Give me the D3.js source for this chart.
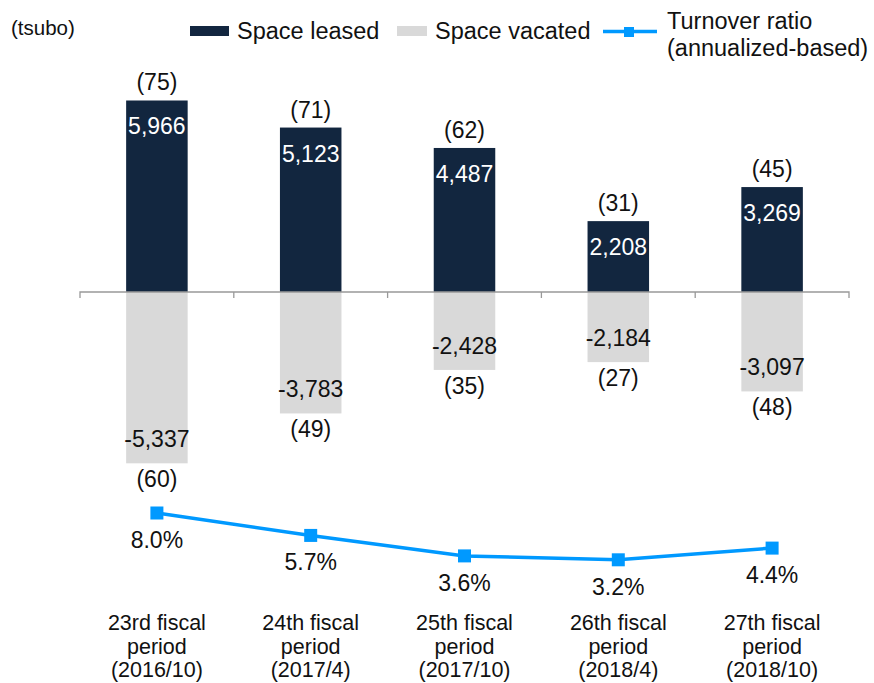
<!DOCTYPE html>
<html>
<head>
<meta charset="utf-8">
<script src="https://cdn.jsdelivr.net/npm/d3@7"></script>
<style>
  body { margin: 0; background: #fff; }
  text { font-family: "Liberation Sans", Arial, sans-serif; }
</style>
</head>
<body>
<div id="chart"></div>
<script>
let periods = [
  ["23rd fiscal", "period", "(2016/10)"],
  ["24th fiscal", "period", "(2017/4)"],
  ["25th fiscal", "period", "(2017/10)"],
  ["26th fiscal", "period", "(2018/4)"],
  ["27th fiscal", "period", "(2018/10)"]
]
let leased = [5966, 5123, 4487, 2208, 3269]
let leasedCount = [75, 71, 62, 31, 45]
let vacated = [-5337, -3783, -2428, -2184, -3097]
let vacatedCount = [60, 49, 35, 27, 48]
let turnover = [8.0, 5.7, 3.6, 3.2, 4.4]

let width = 874, height = 683
let navy = "#12263f", grey = "#d9d9d9", blue = "#0099ff"

let svg = d3.select("#chart").append("svg")
  .attr("width", width)
  .attr("height", height)

let x = d3.scaleBand()
  .domain(d3.range(periods.length))
  .range([80, 849])
  .padding(0)

let barW = x.bandwidth() * 0.4
let cx = i => x(i) + x.bandwidth() / 2

let y = d3.scaleLinear()
  .domain([-6000, 6000])
  .range([292 + 192.6, 292 - 192.6])

let yPct = d3.scaleLinear()
  .domain([0, 8])
  .range([591, 513])

// hyphen instead of unicode minus
let fmt = d => d3.format(",")(d).replace("\u2212", "-")

// leased bars
svg.selectAll("rect.leased")
  .data(leased)
  .enter()
  .append("rect")
  .attr("class", "leased")
  .attr("x", (d, i) => cx(i) - barW / 2)
  .attr("y", d => y(d))
  .attr("width", barW)
  .attr("height", d => y(0) - y(d))
  .attr("fill", navy)

// vacated bars
svg.selectAll("rect.vacated")
  .data(vacated)
  .enter()
  .append("rect")
  .attr("class", "vacated")
  .attr("x", (d, i) => cx(i) - barW / 2)
  .attr("y", y(0))
  .attr("width", barW)
  .attr("height", d => y(d) - y(0))
  .attr("fill", grey)

// axis at zero
let gX = svg.append("g")
  .attr("transform", "translate(0," + y(0) + ")")
gX.append("path")
  .attr("d", "M80,6V0H849V6")
  .attr("fill", "none")
  .attr("stroke", "#999")
  .attr("stroke-width", 1.3)
gX.selectAll("line.sep")
  .data(d3.range(1, periods.length))
  .enter()
  .append("line")
  .attr("class", "sep")
  .attr("x1", i => x(i)).attr("x2", i => x(i))
  .attr("y1", 0).attr("y2", 6)
  .attr("stroke", "#999")
  .attr("stroke-width", 1.3)

// leased labels
svg.selectAll("text.lv")
  .data(leased)
  .enter()
  .append("text")
  .attr("x", (d, i) => cx(i))
  .attr("y", d => y(d) + 34)
  .attr("text-anchor", "middle")
  .attr("font-size", "23px")
  .attr("fill", "white")
  .text(d => fmt(d))

svg.selectAll("text.lc")
  .data(leasedCount)
  .enter()
  .append("text")
  .attr("x", (d, i) => cx(i))
  .attr("y", (d, i) => y(leased[i]) - 10)
  .attr("text-anchor", "middle")
  .attr("font-size", "23px")
  .attr("fill", "#111")
  .text(d => "(" + d + ")")

// vacated labels
svg.selectAll("text.vv")
  .data(vacated)
  .enter()
  .append("text")
  .attr("x", (d, i) => cx(i))
  .attr("y", d => y(d) - 16)
  .attr("text-anchor", "middle")
  .attr("font-size", "23px")
  .attr("fill", "#111")
  .text(d => fmt(d))

svg.selectAll("text.vc")
  .data(vacatedCount)
  .enter()
  .append("text")
  .attr("x", (d, i) => cx(i))
  .attr("y", (d, i) => y(vacated[i]) + 24)
  .attr("text-anchor", "middle")
  .attr("font-size", "23px")
  .attr("fill", "#111")
  .text(d => "(" + d + ")")

// turnover line
let line = d3.line()
  .x((d, i) => cx(i))
  .y(d => yPct(d))

svg.append("path")
  .datum(turnover)
  .attr("d", line)
  .attr("fill", "none")
  .attr("stroke", blue)
  .attr("stroke-width", 3.5)

svg.selectAll("rect.mk")
  .data(turnover)
  .enter()
  .append("rect")
  .attr("x", (d, i) => cx(i) - 6.5)
  .attr("y", d => yPct(d) - 6.5)
  .attr("width", 13)
  .attr("height", 13)
  .attr("fill", blue)

svg.selectAll("text.pct")
  .data(turnover)
  .enter()
  .append("text")
  .attr("x", (d, i) => cx(i))
  .attr("y", d => yPct(d) + 35)
  .attr("text-anchor", "middle")
  .attr("font-size", "23px")
  .attr("fill", "#111")
  .text(d => d.toFixed(1) + "%")

// category labels
let cat = svg.selectAll("text.cat")
  .data(periods)
  .enter()
  .append("text")
  .attr("text-anchor", "middle")
  .attr("font-size", "21.5px")
  .attr("fill", "#111")
cat.each(function(d, i) {
  d3.select(this).selectAll("tspan")
    .data(d)
    .enter()
    .append("tspan")
    .attr("x", cx(i))
    .attr("y", (t, j) => 630 + j * 23.5)
    .text(t => t)
})

// unit
svg.append("text")
  .attr("x", 11).attr("y", 35)
  .attr("font-size", "20.5px")
  .attr("fill", "#111")
  .text("(tsubo)")

// legend
let lg = svg.append("g")
lg.append("rect").attr("x", 190).attr("y", 26).attr("width", 39).attr("height", 10).attr("fill", navy)
lg.append("text").attr("x", 237).attr("y", 39).attr("font-size", "23.5px").attr("fill", "#111").text("Space leased")
lg.append("rect").attr("x", 397).attr("y", 26).attr("width", 30).attr("height", 10).attr("fill", grey)
lg.append("text").attr("x", 435).attr("y", 39).attr("font-size", "23.5px").attr("fill", "#111").text("Space vacated")
lg.append("line").attr("x1", 603).attr("x2", 657).attr("y1", 31.5).attr("y2", 31.5).attr("stroke", blue).attr("stroke-width", 3.5)
lg.append("rect").attr("x", 624).attr("y", 27).attr("width", 10).attr("height", 10).attr("fill", blue)
lg.append("text").attr("x", 667).attr("y", 28.5).attr("font-size", "23.5px").attr("fill", "#111").text("Turnover ratio")
lg.append("text").attr("x", 667).attr("y", 56).attr("font-size", "23.5px").attr("fill", "#111").text("(annualized-based)")
</script>
</body>
</html>
